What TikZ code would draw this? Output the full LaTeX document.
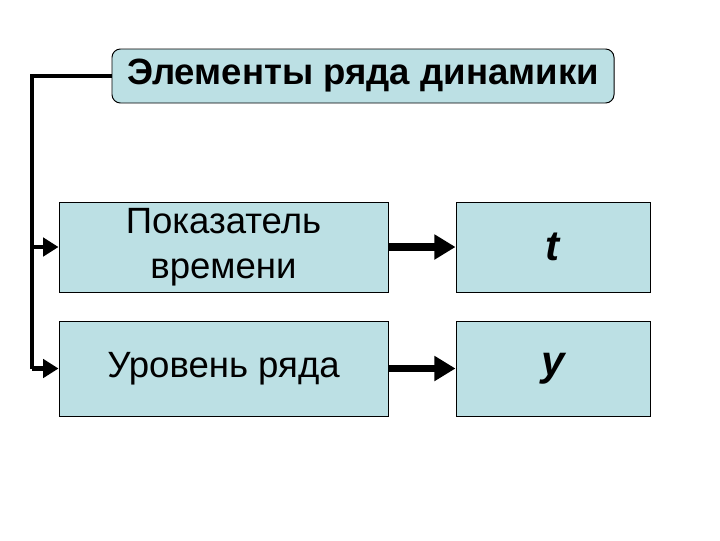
\documentclass[tikz,border=0pt]{standalone}
\usepackage{fontspec}
\setmainfont{Liberation Sans}
\usetikzlibrary{arrows.meta}
\definecolor{boxblue}{RGB}{188,224,228}

\tikzset{
  elem/.style={draw, line width=0.7pt, fill=boxblue, inner sep=0pt, font=\fontsize{26}{31}\selectfont},
  sym/.style={elem, font=\fontsize{30}{34}\selectfont\bfseries\itshape},
  link/.style={line width=3pt, -{Triangle[length=11pt,width=13pt]}},
  bigarrow/.style={line width=5pt, -{Triangle[length=15pt,width=17pt]}}
}

\begin{document}
\begin{tikzpicture}[x=0.025cm, y=-0.025cm]
\useasboundingbox (0,0) rectangle (720,540);
\node [elem, rounded corners=6pt, minimum width=502*0.025cm, minimum height=54*0.025cm,
  font=\fontsize{26}{31}\selectfont\bfseries] (title) at (363,76) {Элементы ряда динамики};
\node [elem, minimum width=329*0.025cm, minimum height=90*0.025cm, align=center,
  font=\fontsize{26}{30}\selectfont] (time) at (223.5,247) {Показатель\\[2pt]времени};
\node [elem, minimum width=329*0.025cm, minimum height=95*0.025cm] (level) at (223.5,368.5) {Уровень ряда};
\node [sym, minimum width=194*0.025cm, minimum height=90*0.025cm] (t) at (553,247) {t};
\node [sym, minimum width=194*0.025cm, minimum height=95*0.025cm] (y) at (553,368.5) {y};
\coordinate (corner) at (32,76);

% left connector
\draw [line width=3pt] (title.west) -- (corner) -- (corner |- level.west);
\draw [link] (corner |- time.west) -- (time.west);
\draw [link] (corner |- level.west) -- (level.west);

% values
\draw [bigarrow] (time) -- (t);
\draw [bigarrow] (level) -- (y);
\end{tikzpicture}
\end{document}
